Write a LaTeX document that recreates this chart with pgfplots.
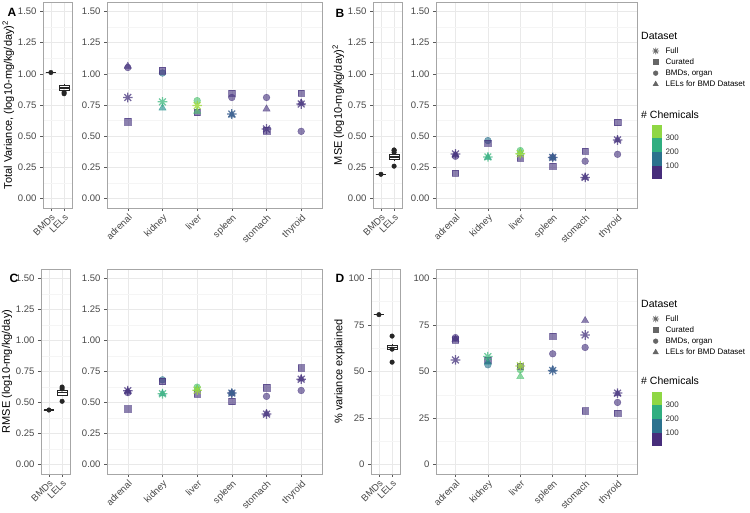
\documentclass[border=0pt]{standalone}
\usepackage{fontspec}
\setmainfont{Liberation Sans}
\usepackage{pgfplots}
\pgfplotsset{compat=1.18}
\usepgfplotslibrary{statistics}

\definecolor{vP}{HTML}{46337E}
\definecolor{vN}{HTML}{365C8D}
\definecolor{vB}{HTML}{2C728E}
\definecolor{vT}{HTML}{21908C}
\definecolor{vG}{HTML}{35B779}
\definecolor{vL}{HTML}{4AC16D}
\definecolor{vY}{HTML}{9FDA3A}
\definecolor{cb1}{HTML}{472D7B}
\definecolor{cb2}{HTML}{2C728E}
\definecolor{cb3}{HTML}{30AE80}
\definecolor{cb4}{HTML}{8FD744}

\pgfdeclareplotmark{ast8}{%
  \pgfpathmoveto{\pgfqpoint{-\pgfplotmarksize}{0pt}}%
  \pgfpathlineto{\pgfqpoint{\pgfplotmarksize}{0pt}}%
  \pgfpathmoveto{\pgfqpoint{0pt}{-\pgfplotmarksize}}%
  \pgfpathlineto{\pgfqpoint{0pt}{\pgfplotmarksize}}%
  \pgfpathmoveto{\pgfqpoint{-.7071\pgfplotmarksize}{-.7071\pgfplotmarksize}}%
  \pgfpathlineto{\pgfqpoint{.7071\pgfplotmarksize}{.7071\pgfplotmarksize}}%
  \pgfpathmoveto{\pgfqpoint{-.7071\pgfplotmarksize}{.7071\pgfplotmarksize}}%
  \pgfpathlineto{\pgfqpoint{.7071\pgfplotmarksize}{-.7071\pgfplotmarksize}}%
  \pgfusepathqstroke}

\tikzset{cl/.style={draw=#1,fill=#1,opacity=0.62}}

\pgfplotsset{
  gg/.style={
    scale only axis,
    anchor=south west,
    /pgf/number format/assume math mode=true,
    axis line style={draw=gray!70, line width=0.6pt},
    grid=both,
    major grid style={draw=gray!17, line width=0.6pt},
    minor grid style={draw=gray!8, line width=0.35pt},
    minor y tick num=1,
    tick align=outside,
    major tick length=3pt,
    minor tick length=0pt,
    every tick/.style={draw=gray!70!black, line width=0.5pt},
    tick pos=left,
    ticklabel style={font=\fontsize{9.5}{11}\selectfont, text=black!72},
    xticklabel style={rotate=45, anchor=north east, inner sep=1.5pt},
    label style={font=\fontsize{11}{13}\selectfont},
  },
  organ/.style={
    gg,
    xmin=0.4, xmax=6.6,
    xtick={1,2,3,4,5,6},
    xticklabels={adrenal,kidney,liver,spleen,stomach,thyroid},
  },
  small/.style={
    gg,
    width=29pt,
    xmin=0.4, xmax=2.6,
    xtick={1,2},
    xticklabels={BMDs,LELs},
    ylabel shift=-3pt,
  },
  unit/.style={
    ymin=-0.075, ymax=1.575,
    ytick={0,0.25,0.5,0.75,1,1.25,1.5},
    yticklabel={\pgfmathprintnumber[fixed,fixed zerofill,precision=2]{\tick}},
  },
  pct/.style={
    ymin=-5, ymax=105,
    ytick={0,25,50,75,100},
  },
  vcl/.style={
    scatter, only marks, forget plot,
    scatter src=explicit symbolic,
    scatter/classes={
      P={cl=vP}, N={cl=vN}, B={cl=vB}, T={cl=vT},
      G={cl=vG}, L={cl=vL}, Y={cl=vY}},
  },
  circ/.style={vcl, mark=*, mark size=3.4pt},
  sq/.style={vcl, mark=square*, mark size=3.2pt},
  tri/.style={vcl, mark=triangle*, mark size=4.2pt},
  star/.style={vcl, mark=ast8, mark size=4.8pt, line width=1.25pt,
    scatter/classes={
      P={draw=vP,opacity=0.75}, N={draw=vN,opacity=0.8}, B={draw=vB,opacity=0.8},
      T={draw=vT,opacity=0.8}, G={draw=vG,opacity=0.7}, L={draw=vL,opacity=0.75},
      Y={draw=vY,opacity=0.8}}},
  bx/.style={draw=black!85, fill=white, line width=0.5pt, solid, forget plot,
    boxplot/draw direction=y,
    boxplot/box extend=0.75, boxplot/whisker extend=0,
    boxplot/every median/.style={line width=1.4pt}},
  dots/.style={only marks, mark=*, mark size=2.3pt, black!85, forget plot},
  dslegend/.style={
    legend style={at={(axis description cs:1.075,0.784)}, anchor=north west,
      draw=none, fill=none, inner sep=0pt,
      font=\fontsize{8}{9}\selectfont, row sep=2.6pt,
      /tikz/every odd column/.append style={column sep=6pt},
      nodes={inner sep=0.5pt, text height=6pt, text depth=1.5pt}},
    legend cell align=left,
    legend image code/.code={\draw[##1] plot coordinates {(0pt,0pt)};},
  },
  cbar/.style={
    scale only axis, anchor=south west,
    /pgf/number format/assume math mode=true,
    width=10pt, height=54pt,
    xmin=0, xmax=1, ymin=7, ymax=393,
    axis line style={draw=none},
    xtick=\empty, ytick={100,200,300},
    yticklabel pos=right,
    major tick length=0pt, tick style={draw=none},
    ticklabel style={font=\fontsize{8}{9}\selectfont, text=black!80},
  },
}

\newcommand{\dslegendentries}{%
  \addlegendimage{only marks, mark=ast8, mark size=3.4pt, black!60, line width=0.8pt}
  \addlegendentry{Full}
  \addlegendimage{only marks, mark=square*, mark size=2.4pt, black!60}
  \addlegendentry{Curated}
  \addlegendimage{only marks, mark=*, mark size=2.4pt, black!60}
  \addlegendentry{BMDs, organ}
  \addlegendimage{only marks, mark=triangle*, mark size=3.1pt, black!60}
  \addlegendentry{LELs for BMD Dataset}
}

\newcommand{\colorbins}{%
  \addplot[fill=cb1, draw=none] coordinates {(0,7) (1,7) (1,100) (0,100)} -- cycle;
  \addplot[fill=cb2, draw=none] coordinates {(0,100) (1,100) (1,200) (0,200)} -- cycle;
  \addplot[fill=cb3, draw=none] coordinates {(0,200) (1,200) (1,300) (0,300)} -- cycle;
  \addplot[fill=cb4, draw=none] coordinates {(0,300) (1,300) (1,393) (0,393)} -- cycle;
}

\begin{document}
\begin{tikzpicture}

% ================= Panel A =================
\begin{axis}[small, unit, at={(43pt,305pt)}, height=206pt,
  ylabel={Total Variance, (log10-mg/kg/day)\textsuperscript{2}}]
\addplot[bx, boxplot prepared={draw position=1, lower whisker=1.01, lower quartile=1.01, median=1.01, upper quartile=1.01, upper whisker=1.01}] coordinates {};
\addplot[bx, boxplot prepared={draw position=2, lower whisker=0.83, lower quartile=0.865, median=0.885, upper quartile=0.91, upper whisker=0.92}] coordinates {};
\addplot[dots] coordinates {(1,1.01) (2,0.84) (2,0.852)};
\end{axis}

\begin{axis}[organ, unit, at={(107pt,305pt)}, width=215pt, height=206pt]
\addplot[circ] table[meta=c] {
x y c
1 1.05 P
2 1.006 B
3 0.785 L
4 0.81 P
5 0.81 P
6 0.539 P
};
\addplot[sq] table[meta=c] {
x y c
1 0.617 P
2 1.025 P
3 0.69 P
4 0.846 P
5 0.545 P
6 0.846 P
};
\addplot[tri] table[meta=c] {
x y c
1 1.06 P
2 0.726 T
3 0.70 L
4 0.67 N
5 0.718 P
6 0.766 P
};
\addplot[star] table[meta=c] {
x y c
1 0.81 P
2 0.775 G
3 0.745 Y
4 0.678 N
5 0.558 P
6 0.758 P
};
\end{axis}

% ================= Panel B =================
\begin{axis}[small, unit, at={(373pt,305pt)}, height=206pt,
  ylabel={MSE (log10-mg/kg/day)\textsuperscript{2}}]
\addplot[bx, boxplot prepared={draw position=1, lower whisker=0.195, lower quartile=0.195, median=0.195, upper quartile=0.195, upper whisker=0.195}] coordinates {};
\addplot[bx, boxplot prepared={draw position=2, lower whisker=0.30, lower quartile=0.315, median=0.335, upper quartile=0.355, upper whisker=0.37}] coordinates {};
\addplot[dots] coordinates {(1,0.195) (2,0.26) (2,0.37) (2,0.385) (2,0.39)};
\end{axis}

\begin{axis}[organ, unit, at={(436pt,305pt)}, width=201pt, height=206pt, dslegend]
\dslegendentries
\addplot[circ] table[meta=c] {
x y c
1 0.339 P
2 0.465 B
3 0.385 L
4 0.33 P
5 0.30 P
6 0.355 P
};
\addplot[sq] table[meta=c] {
x y c
1 0.205 P
2 0.446 P
3 0.325 P
4 0.26 P
5 0.38 P
6 0.61 P
};
\addplot[tri] table[meta=c] {
x y c
1 0.35 P
2 0.33 T
3 0.37 L
4 0.33 N
5 0.17 P
6 0.47 P
};
\addplot[star] table[meta=c] {
x y c
1 0.358 P
2 0.334 G
3 0.36 Y
4 0.33 N
5 0.17 P
6 0.47 P
};
\end{axis}

% ================= Panel C =================
\begin{axis}[small, unit, at={(41pt,39pt)}, height=205pt,
  ylabel={RMSE (log10-mg/kg/day)}]
\addplot[bx, boxplot prepared={draw position=1, lower whisker=0.44, lower quartile=0.44, median=0.44, upper quartile=0.44, upper whisker=0.44}] coordinates {};
\addplot[bx, boxplot prepared={draw position=2, lower whisker=0.55, lower quartile=0.56, median=0.58, upper quartile=0.60, upper whisker=0.61}] coordinates {};
\addplot[dots] coordinates {(1,0.44) (2,0.51) (2,0.61) (2,0.625)};
\end{axis}

\begin{axis}[organ, unit, at={(107pt,39pt)}, width=215pt, height=205pt]
\addplot[circ] table[meta=c] {
x y c
1 0.58 P
2 0.683 B
3 0.624 L
4 0.576 P
5 0.55 P
6 0.597 P
};
\addplot[sq] table[meta=c] {
x y c
1 0.45 P
2 0.67 P
3 0.57 P
4 0.509 P
5 0.62 P
6 0.78 P
};
\addplot[tri] table[meta=c] {
x y c
1 0.59 P
2 0.57 T
3 0.61 L
4 0.576 N
5 0.41 P
6 0.69 P
};
\addplot[star] table[meta=c] {
x y c
1 0.595 P
2 0.571 G
3 0.60 Y
4 0.576 N
5 0.407 P
6 0.688 P
};
\end{axis}

% ================= Panel D =================
\begin{axis}[small, pct, at={(371pt,39pt)}, height=205pt,
  ylabel={\% variance explained}]
\addplot[bx, boxplot prepared={draw position=1, lower whisker=80.5, lower quartile=80.5, median=80.5, upper quartile=80.5, upper whisker=80.5}] coordinates {};
\addplot[bx, boxplot prepared={draw position=2, lower whisker=61, lower quartile=61.8, median=63, upper quartile=64.2, upper whisker=64.8}] coordinates {};
\addplot[dots] coordinates {(1,80.5) (2,69) (2,62) (2,55)};
\end{axis}

\begin{axis}[organ, pct, at={(436pt,39pt)}, width=201pt, height=205pt, dslegend,
  legend style={at={(axis description cs:1.075,0.778)}}]
\dslegendentries
\addplot[circ] table[meta=c] {
x y c
1 68.2 P
2 53.6 B
3 51 L
4 59.5 P
5 62.9 P
6 33.4 P
};
\addplot[sq] table[meta=c] {
x y c
1 67 P
2 56.2 P
3 53 P
4 69.1 P
5 28.9 P
6 27.7 P
};
\addplot[tri] table[meta=c] {
x y c
1 67.3 P
2 55 T
3 47.3 L
4 51 N
5 77.3 P
6 38 P
};
\addplot[star] table[meta=c] {
x y c
1 56.2 P
2 58 G
3 53 Y
4 50.5 N
5 69.6 P
6 38.4 P
};
\end{axis}

% ================= Colour bars =================
\begin{axis}[cbar, at={(652pt,334pt)}]
\colorbins
\end{axis}
\begin{axis}[cbar, at={(652pt,67pt)}]
\colorbins
\end{axis}

% ================= Legend titles and panel letters =================
\node[anchor=west, font=\fontsize{10.5}{12}\selectfont, inner sep=0pt] at (641pt,477pt) {Dataset};
\node[anchor=west, font=\fontsize{10.5}{12}\selectfont, inner sep=0pt] at (641pt,398pt) {\# Chemicals};
\node[anchor=west, font=\fontsize{10.5}{12}\selectfont, inner sep=0pt] at (641pt,209pt) {Dataset};
\node[anchor=west, font=\fontsize{10.5}{12}\selectfont, inner sep=0pt] at (641pt,132pt) {\# Chemicals};

\node[font=\bfseries\fontsize{12}{14}\selectfont] at (12pt,501pt) {A};
\node[font=\bfseries\fontsize{12}{14}\selectfont] at (340pt,500pt) {B};
\node[font=\bfseries\fontsize{12}{14}\selectfont] at (14pt,235pt) {C};
\node[font=\bfseries\fontsize{12}{14}\selectfont] at (340pt,235pt) {D};

\pgfresetboundingbox
\path[use as bounding box] (0pt,0pt) rectangle (750pt,513pt);
\end{tikzpicture}
\end{document}
